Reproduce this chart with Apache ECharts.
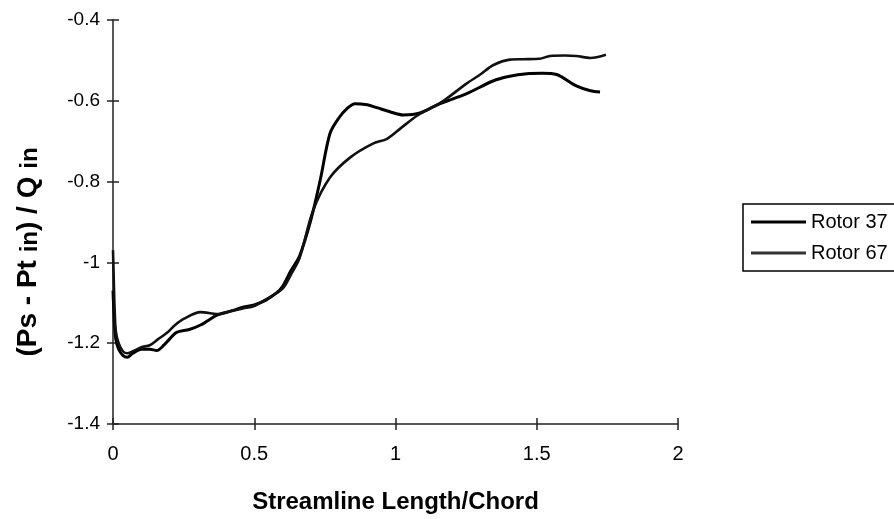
<!DOCTYPE html>
<html><head><meta charset="utf-8">
<script src="https://cdn.jsdelivr.net/npm/echarts@6/dist/echarts.min.js"></script>
<style>html,body{margin:0;padding:0;background:#fff}#c{width:894px;height:519px}</style>
</head><body><div id="c"></div>
<script>
var seriesNames = ['Rotor 37', 'Rotor 67'];
var xTicks = [0, 0.5, 1, 1.5, 2];
var yTicks = [-1.4, -1.2, -1, -0.8, -0.6, -0.4];
var xTitle = 'Streamline Length/Chord';
var yTitle = '(Ps - Pt {s|in}) / Q {s|in}';
var rotor37 = [
 [0,-1.07],[0.005,-1.15],[0.01,-1.19],[0.02,-1.215],[0.035,-1.23],[0.05,-1.235],[0.07,-1.225],
 [0.1,-1.215],[0.13,-1.215],[0.155,-1.218],[0.18,-1.205],[0.2,-1.19],[0.225,-1.173],[0.27,-1.166],
 [0.31,-1.155],[0.37,-1.13],[0.42,-1.12],[0.46,-1.111],[0.5,-1.105],[0.54,-1.094],[0.58,-1.075],
 [0.6,-1.06],[0.63,-1.02],[0.66,-0.985],[0.7,-0.896],[0.733,-0.798],[0.768,-0.681],[0.8,-0.642],
 [0.83,-0.618],[0.857,-0.607],[0.9,-0.61],[0.934,-0.617],[0.98,-0.627],[1.027,-0.635],[1.06,-0.634],
 [1.087,-0.63],[1.158,-0.607],[1.25,-0.583],[1.345,-0.551],[1.4,-0.54],[1.465,-0.533],[1.52,-0.532],
 [1.57,-0.535],[1.64,-0.563],[1.69,-0.575],[1.724,-0.578]
];
var rotor67 = [
 [0,-0.97],[0.003,-1.05],[0.006,-1.12],[0.01,-1.17],[0.02,-1.2],[0.035,-1.22],[0.05,-1.225],
 [0.07,-1.22],[0.1,-1.21],[0.13,-1.205],[0.16,-1.19],[0.19,-1.175],[0.22,-1.155],[0.25,-1.14],
 [0.31,-1.123],[0.37,-1.128],[0.42,-1.12],[0.46,-1.114],[0.5,-1.108],[0.54,-1.092],[0.6,-1.065],
 [0.63,-1.03],[0.66,-0.99],[0.708,-0.872],[0.768,-0.79],[0.84,-0.74],[0.92,-0.706],[0.97,-0.694],
 [1.02,-0.667],[1.076,-0.637],[1.12,-0.62],[1.17,-0.6],[1.25,-0.558],[1.3,-0.535],[1.345,-0.512],
 [1.405,-0.498],[1.45,-0.497],[1.51,-0.496],[1.547,-0.489],[1.6,-0.488],[1.64,-0.489],[1.69,-0.494],
 [1.745,-0.486]
];
var chart = echarts.init(document.getElementById('c'), null, {renderer:'canvas'});
var font = 'Liberation Sans, Arial, sans-serif';
var xMin = xTicks[0], xMax = xTicks[xTicks.length-1];
var yMin = yTicks[0], yMax = yTicks[yTicks.length-1];
chart.setOption({
  animation:false,
  backgroundColor:'#fff',
  grid:{left:113, top:20, width:565, height:404},
  graphic:[{
    type:'text', x:28, y:252, rotation:Math.PI/2,
    style:{text:yTitle, fontFamily:font, fontSize:28, fontWeight:'bold', fill:'#000',
      textAlign:'center', textVerticalAlign:'middle',
      rich:{s:{fontFamily:font, fontSize:24, fontWeight:'bold', fill:'#000', verticalAlign:'bottom'}}}
  }],
  legend:{
    data:[{name:seriesNames[0], icon:'rect', itemStyle:{color:'#000'}},
          {name:seriesNames[1], icon:'rect', itemStyle:{color:'#333'}}],
    orient:'vertical', left:743, top:204,
    borderColor:'#000', borderWidth:1.5, padding:[8,14,8,8], itemGap:11,
    itemWidth:55, itemHeight:3,
    textStyle:{fontFamily:font, fontSize:20, color:'#000'}
  },
  xAxis:[{
    type:'value', min:xMin, max:xMax, interval:0.5,
    name:xTitle, nameLocation:'middle', nameGap:66,
    nameTextStyle:{fontFamily:font, fontSize:24, fontWeight:'bold', color:'#000'},
    axisLine:{lineStyle:{color:'#222', width:1.5}},
    axisTick:{length:6, lineStyle:{color:'#222', width:1.5}},
    axisLabel:{fontFamily:font, fontSize:20, color:'#000', margin:20, formatter:function(v){return String(v);}},
    splitLine:{show:false}
  },{
    type:'value', position:'bottom', min:xMin, max:xMax, interval:0.5,
    axisLine:{show:false}, axisLabel:{show:false}, splitLine:{show:false},
    axisTick:{inside:true, length:6, lineStyle:{color:'#222', width:1.5}}
  }],
  yAxis:[{
    type:'value', min:yMin, max:yMax, interval:0.2,
    axisLine:{show:true, lineStyle:{color:'#222', width:1.5}},
    axisTick:{show:true, length:6, lineStyle:{color:'#222', width:1.5}},
    axisLabel:{fontFamily:font, fontSize:19, color:'#000', margin:13, formatter:function(v){return String(Math.round(v*10)/10);}},
    splitLine:{show:false}
  },{
    type:'value', position:'left', min:yMin, max:yMax, interval:0.2,
    axisLine:{show:false}, axisLabel:{show:false}, splitLine:{show:false},
    axisTick:{show:true, inside:true, length:6, lineStyle:{color:'#222', width:1.5}}
  }],
  series:[
    {name:seriesNames[0], type:'line', data:rotor37, smooth:0.3, symbol:'none',
     lineStyle:{color:'#000', width:3}, itemStyle:{color:'#000'}},
    {name:seriesNames[1], type:'line', data:rotor67, smooth:0.3, symbol:'none',
     lineStyle:{color:'#111', width:2.6}, itemStyle:{color:'#111'}}
  ]
});
</script></body></html>
